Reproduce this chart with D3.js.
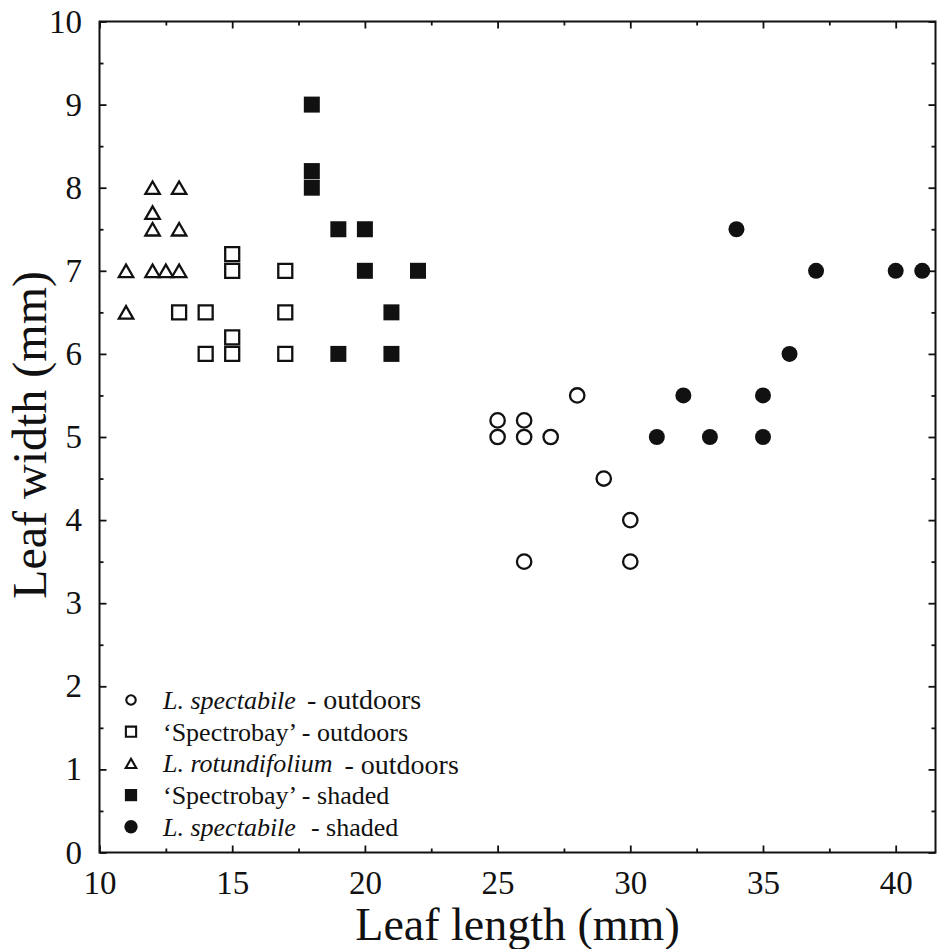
<!DOCTYPE html>
<html>
<head>
<meta charset="utf-8">
<script src="https://cdn.jsdelivr.net/npm/d3@7"></script>
<style>
body { margin: 0; background: #fff; }
svg { display: block; font-family: "Liberation Serif", "Times New Roman", serif; }
</style>
</head>
<body>
<svg id="chart" width="947" height="949"></svg>
<script>
// leaf length (mm), leaf width (mm) per group
const spectOut = [[25,5.2],[25,5],[26,5.2],[26,5],[27,5],[28,5.5],[29,4.5],[30,4],[26,3.5],[30,3.5]];
const bayOut = [[13,6.5],[14,6.5],[14,6],[15,7.2],[15,7],[15,6.2],[15,6],[17,7],[17,6.5],[17,6]];
const rotOut = [[11,7],[11,6.5],[12,8],[12,7.7],[12,7.5],[12,7],[12.5,7],[13,8],[13,7.5],[13,7]];
const bayShade = [[18,9],[18,8.2],[18,8],[19,7.5],[20,7.5],[20,7],[22,7],[21,6.5],[19,6],[21,6]];
const spectShade = [[31,5],[32,5.5],[33,5],[34,7.5],[35,5.5],[35,5],[36,6],[37,7],[40,7],[41,7]];

const xTicks = [10,15,20,25,30,35,40];
const xMinor = [12.5,17.5,22.5,27.5,32.5,37.5];
const yTicks = [0,1,2,3,4,5,6,7,8,9,10];
const yMinor = [0.5,1.5,2.5,3.5,4.5,5.5,6.5,7.5,8.5,9.5];

const legendItalic = ["L. spectabile", "", "L. rotundifolium", "", "L. spectabile"];
const legendText = ["- outdoors", "\u2018Spectrobay\u2019 - outdoors", "- outdoors", "\u2018Spectrobay\u2019 - shaded", "- shaded"];

const W = 947, H = 949;
const m = {top: 21.5, right: 11.5, bottom: 96.5, left: 99.5};
const iw = W - m.left - m.right, ih = H - m.top - m.bottom;
const ink = "#111";

const svg = d3.select("#chart");
const g = svg.append("g").attr("transform", `translate(${m.left},${m.top})`);

const x = d3.scaleLinear().domain([10, 41.5]).range([0, iw]);
const y = d3.scaleLinear().domain([0, 10]).range([ih, 0]);

function styleAxis(sel) {
  sel.select(".domain").remove();
  sel.selectAll(".tick line").attr("stroke", ink).attr("stroke-width", 1.8);
  sel.selectAll(".tick text").attr("fill", ink).style("font-size", "33px")
     .style("font-family", "'Liberation Serif', 'Times New Roman', serif");
}

// labelled axes
g.append("g").attr("transform", `translate(0,${ih})`)
  .call(d3.axisBottom(x).tickValues(xTicks).tickSize(-7).tickPadding(18).tickFormat(d3.format("d")))
  .call(styleAxis);
g.append("g")
  .call(d3.axisLeft(y).tickValues(yTicks).tickSize(-7).tickPadding(17.5).tickFormat(d3.format("d")))
  .call(styleAxis);
// minor ticks
g.append("g").attr("transform", `translate(0,${ih})`)
  .call(d3.axisBottom(x).tickValues(xMinor).tickSize(-4).tickFormat("")).call(styleAxis);
g.append("g")
  .call(d3.axisLeft(y).tickValues(yMinor).tickSize(-4).tickFormat("")).call(styleAxis);
// mirrored ticks top / right
g.append("g").call(d3.axisTop(x).tickValues(xTicks).tickSize(-7).tickFormat("")).call(styleAxis);
g.append("g").call(d3.axisTop(x).tickValues(xMinor).tickSize(-4).tickFormat("")).call(styleAxis);
g.append("g").attr("transform", `translate(${iw},0)`)
  .call(d3.axisRight(y).tickValues(yTicks).tickSize(-7).tickFormat("")).call(styleAxis);
g.append("g").attr("transform", `translate(${iw},0)`)
  .call(d3.axisRight(y).tickValues(yMinor).tickSize(-4).tickFormat("")).call(styleAxis);

// frame
g.append("rect").attr("width", iw).attr("height", ih)
  .attr("fill", "none").attr("stroke", ink).attr("stroke-width", 2);

// series
const series = [
  {data: spectOut, type: d3.symbolCircle, size: 163, fill: false, leg: 70},
  {data: bayOut, type: d3.symbolSquare, size: 196, fill: false, leg: 105},
  {data: rotOut, type: d3.symbolTriangle, size: 90, fill: false, leg: 48},
  {data: bayShade, type: d3.symbolSquare, size: 256, fill: true, leg: 150},
  {data: spectShade, type: d3.symbolCircle, size: 201, fill: true, leg: 140}
];

// triangles are drawn around their centroid; nudge to centre the box
function triShift(s) { return s.type === d3.symbolTriangle ? Math.sqrt(s.size / (3 * Math.sqrt(3))) / 2 : 0; }

series.forEach(s => {
  const sym = d3.symbol().type(s.type).size(s.size);
  g.append("g").selectAll("path")
    .data(s.data)
    .join("path")
    .attr("d", sym)
    .attr("transform", d => `translate(${x(d[0])},${y(d[1]) + triShift(s)})`)
    .attr("fill", s.fill ? ink : "none")
    .attr("stroke", s.fill ? "none" : ink)
    .attr("stroke-width", 2.3);
});

// legend
const legGap = [11, 0, 12, 0, 15];
const legSize = [28, 26, 28, 26, 26];
const leg = svg.append("g");
series.forEach((s, i) => {
  const cy = 700 + i * 31.7;
  const ls = {type: s.type, size: s.leg};
  leg.append("path")
    .attr("d", d3.symbol().type(s.type).size(s.leg))
    .attr("transform", `translate(131,${cy + triShift(ls)})`)
    .attr("fill", s.fill ? ink : "none")
    .attr("stroke", s.fill ? "none" : ink)
    .attr("stroke-width", 2.1);
  const t = leg.append("text").attr("x", 163).attr("y", cy + 9)
    .attr("fill", ink).style("font-size", "26px");
  if (legendItalic[i]) {
    t.append("tspan").style("font-style", "italic").text(legendItalic[i]);
    t.append("tspan").attr("dx", legGap[i]).attr("dy", i === 2 ? 2 : 0)
      .style("font-size", legSize[i] + "px").text(legendText[i]);
  } else {
    t.append("tspan").text(legendText[i]);
  }
});

// axis titles
svg.append("text")
  .attr("x", m.left + iw / 2).attr("y", 940)
  .attr("text-anchor", "middle").attr("fill", ink)
  .style("font-size", "46px").text("Leaf length (mm)");
svg.append("text")
  .attr("transform", `translate(46,${m.top + ih / 2 - 2}) rotate(-90)`)
  .attr("text-anchor", "middle").attr("fill", ink)
  .style("font-size", "48px").text("Leaf width (mm)");
</script>
</body>
</html>
